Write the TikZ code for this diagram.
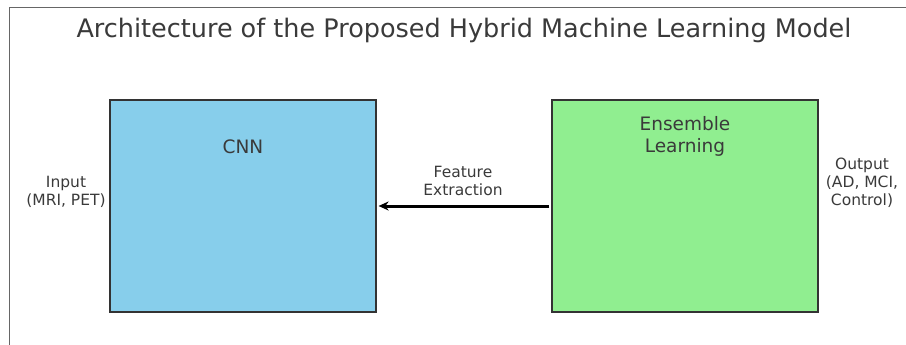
\documentclass[tikz,border=0pt]{standalone}
\usepackage{fontspec}
\setmainfont{DejaVu Sans}
\usetikzlibrary{arrows.meta, positioning}
\definecolor{azulcnn}{HTML}{87CEEB}
\definecolor{verdeens}{HTML}{90EE90}
\definecolor{tinta}{HTML}{3A3A3A}
\tikzset{
    bloque/.style={draw=black!80, line width=1.2pt, minimum width=266pt, minimum height=212pt, inner sep=0pt},
    rotulo/.style={text=tinta, font=\fontsize{15.5}{18}\selectfont, align=center},
    rotulogrande/.style={text=tinta, font=\fontsize{18.5}{22}\selectfont, align=center},
}

\begin{document}
\begin{tikzpicture}[x=1pt,y=-1pt]
\useasboundingbox (0,0) rectangle (906,345);
\draw[black!60, line width=1pt] (9,345) -- (9,8) -- (906,8);
\node[text=tinta, font=\fontsize{25.5}{30}\selectfont] (titulo) at (464,30) {Architecture of the Proposed Hybrid Machine Learning Model};
\node[bloque, fill=azulcnn] (cnn) at (243,206) {};
\node[bloque, fill=verdeens] (ens) at (685,206) {};
\node[rotulogrande] (cnnlbl) at (243,147) {CNN};
\node[rotulogrande] (enslbl) at (685,136) {Ensemble\\Learning};
\node[rotulo] (entrada) at (66,192) {Input\\(MRI, PET)};
\node[rotulo] (salida) at (862,183) {Output\\(AD, MCI,\\Control)};
\node[rotulo] (extraccion) at (463,181) {Feature\\Extraction};
\draw[-{Stealth[length=10pt,width=9pt]}, line width=3pt] (ens.west) ++(-2,0) -- ([xshift=2pt]cnn.east);
\end{tikzpicture}
\end{document}
